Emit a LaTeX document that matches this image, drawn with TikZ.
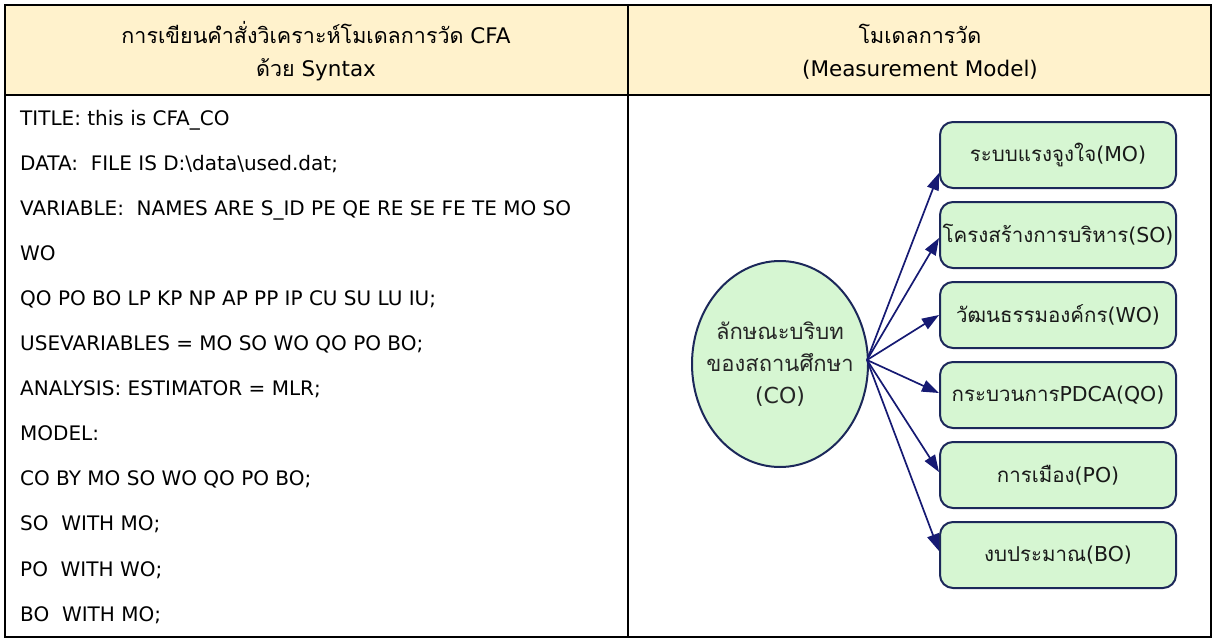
\documentclass[tikz,border=0pt]{standalone}
\usepackage{fontspec}
\setmainfont{DejaVu Sans}
\newfontfamily\thai[Script=Thai]{Loma}
\usetikzlibrary{arrows.meta,calc,shapes.geometric}
\definecolor{hdr}{RGB}{255,242,204}
\definecolor{mint}{RGB}{214,246,210}
\definecolor{navy}{RGB}{22,26,115}
\definecolor{bordr}{RGB}{28,40,90}
\tikzset{
  codeline/.style={anchor=base west, inner sep=0pt, font=\fontsize{20}{22}\selectfont},
  hdrline/.style={anchor=base, inner sep=0pt, font=\fontsize{21.5}{24}\selectfont},
  mbox/.style={draw=bordr, line width=2pt, fill=mint, rounded corners=13pt,
    minimum width=236pt, minimum height=66pt, inner sep=0pt,
    font=\fontsize{20.5}{24}\selectfont, text=black!90},
  latent/.style={ellipse, draw=bordr, line width=2pt, fill=mint,
    minimum width=176pt, minimum height=206pt, inner sep=0pt},
  lattext/.style={align=center, inner sep=0pt,
    font=\fontsize{22}{32}\selectfont, text=black!85},
  link/.style={draw=navy, line width=1.7pt, -{Triangle[length=17pt,width=12pt]}},
  rule/.style={line width=2pt, draw=black}
}
\begin{document}
\begin{tikzpicture}[x=1pt,y=-1pt]
\useasboundingbox (0,0) rectangle (1215,642);
% table
\fill[hdr] (5,5) rectangle (1211,95);
\draw[rule] (5,5) rectangle (1211,637);
\draw[rule] (5,95) -- (1211,95);
\draw[rule] (628,5) -- (628,637);
% header
\node[hdrline] (h1) at (316,44) {{\thai การเขียนคำสั่งวิเคราะห์โมเดลการวัด} CFA};
\node[hdrline] (h2) at (316,77) {{\thai ด้วย} Syntax};
\node[hdrline] (h3) at (920,44) {{\thai โมเดลการวัด}};
\node[hdrline] (h4) at (920,77) {(Measurement Model)};
% code lines
\node[codeline] (c1) at (20,125.0) {TITLE: this is CFA\_CO};
\node[codeline] (c2) at (20,170.1) {DATA:~ FILE IS D:\textbackslash data\textbackslash used.dat;};
\node[codeline] (c3) at (20,215.2) {VARIABLE:~ NAMES ARE S\_ID PE QE RE SE FE TE MO SO};
\node[codeline] (c4) at (20,260.3) {WO};
\node[codeline] (c5) at (20,305.4) {QO PO BO LP KP NP AP PP IP CU SU LU IU;};
\node[codeline] (c6) at (20,350.5) {USEVARIABLES = MO SO WO QO PO BO;};
\node[codeline] (c7) at (20,395.6) {ANALYSIS: ESTIMATOR = MLR;};
\node[codeline] (c8) at (20,440.7) {MODEL:};
\node[codeline] (c9) at (20,485.8) {CO BY MO SO WO QO PO BO;};
\node[codeline] (c10) at (20,530.9) {SO~ WITH MO;};
\node[codeline] (c11) at (20,576.0) {PO~ WITH WO;};
\node[codeline] (c12) at (20,621.1) {BO~ WITH MO;};
% measurement model
\node[latent] (CO) at (780,364) {};
\node[lattext] (COt) at (CO.center) {{\thai ลักษณะบริบท}\\{\thai ของสถานศึกษา}\\(CO)};
\node[mbox] (MO) at (1058,155) {{\thai ระบบแรงจูงใจ}(MO)};
\node[mbox] (SO) at (1058,235) {{\thai โครงสร้างการบริหาร}(SO)};
\node[mbox] (WO) at (1058,315) {{\thai วัฒนธรรมองค์กร}(WO)};
\node[mbox] (QO) at (1058,395) {{\thai กระบวนการ}PDCA(QO)};
\node[mbox] (PO) at (1058,475) {{\thai การเมือง}(PO)};
\node[mbox] (BO) at (1058,555) {{\thai งบประมาณ}(BO)};
\coordinate (hub) at ($(CO.east)+(-2,-4)$);
\draw[link] (hub) -- ($(MO.west)+(0,18)$);
\draw[link] (hub) -- ($(SO.west)+(0,3)$);
\draw[link] (hub) -- (WO.west);
\draw[link] (hub) -- ($(QO.west)+(0,-2)$);
\draw[link] (hub) -- ($(PO.west)+(0,-3)$);
\draw[link] (hub) -- ($(BO.west)+(0,-4)$);
\end{tikzpicture}
\end{document}
